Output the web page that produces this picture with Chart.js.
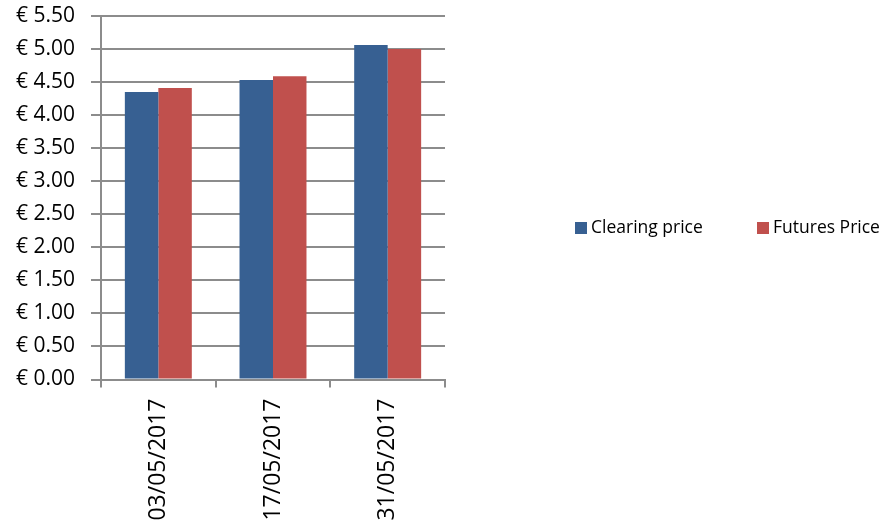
<!DOCTYPE html>
<html>
<head>
<meta charset="utf-8">
<script src="https://cdn.jsdelivr.net/npm/chart.js@4/dist/chart.umd.min.js"></script>
<style>
  html, body { margin: 0; padding: 0; background: #fff; }
  #wrap { width: 883px; height: 526px; }
</style>
</head>
<body>
<div id="wrap"><canvas id="myChart" width="883" height="526"></canvas></div>
<script>
// donnees
var dates = ['03/05/2017', '17/05/2017', '31/05/2017'];
var clearingPrice = [4.35, 4.53, 5.06];
var futuresPrice = [4.41, 4.59, 5.00];
var seriesNames = ['Clearing price', 'Futures Price'];

var FONT = "'Open Sans', 'DejaVu Sans', sans-serif";
var gridColor = '#8c8c8c';

// legende dessinee a la main (a droite, sur une ligne)
var sideLegend = {
    id: 'sideLegend',
    afterDraw: function(chart){
        var ctx = chart.ctx;
        var x = 575, y = 228;
        ctx.save();
        ctx.font = '17.5px ' + FONT;
        ctx.textBaseline = 'middle';
        chart.data.datasets.forEach(function(ds, i){
            var bx = x + i * 182;
            ctx.fillStyle = ds.backgroundColor;
            ctx.fillRect(bx, y - 6, 12, 12);
            ctx.fillStyle = '#000';
            ctx.fillText(ds.label, bx + 16, y);
        });
        ctx.restore();
    }
};

var ctx = document.getElementById('myChart').getContext('2d');
var myChart = new Chart(ctx, {
    type: 'bar',
    data: {
        labels: dates,
        datasets: [{
            label: seriesNames[0],
            data: clearingPrice,
            backgroundColor: '#376092',
            borderWidth: 0
        },{
            label: seriesNames[1],
            data: futuresPrice,
            backgroundColor: '#C0504D',
            borderWidth: 0
        }]
    },
    options: {
        responsive: false,
        animation: false,
        categoryPercentage: 0.584,
        barPercentage: 1,
        layout: { padding: { top: 16, right: 438, left: 0, bottom: 0 } },
        plugins: {
            legend: { display: false },
            tooltip: { enabled: false }
        },
        scales: {
            x: {
                grid: {
                    offset: true,
                    drawOnChartArea: false,
                    drawTicks: true,
                    tickLength: 8,
                    color: gridColor,
                    lineWidth: 2
                },
                border: { display: true, color: gridColor, width: 2 },
                ticks: {
                    color: '#000',
                    font: { family: FONT, size: 23 },
                    minRotation: 90,
                    maxRotation: 90,
                    autoSkip: false,
                    padding: 11
                },
                afterFit: function(scale){ scale.height = 146.5; }
            },
            y: {
                min: 0,
                max: 5.5,
                grid: {
                    color: gridColor,
                    lineWidth: 2,
                    tickLength: 10
                },
                border: { display: true, color: gridColor, width: 2 },
                ticks: {
                    stepSize: 0.5,
                    color: '#000',
                    padding: 16,
                    font: { family: FONT, size: 21 },
                    callback: function(v){ return '€ ' + Number(v).toFixed(2); }
                },
                afterFit: function(scale){
                    scale.width = 101;
                    scale.paddingTop = 0;
                    scale.paddingBottom = 0;
                }
            }
        }
    },
    plugins: [sideLegend]
});
</script>
</body>
</html>
